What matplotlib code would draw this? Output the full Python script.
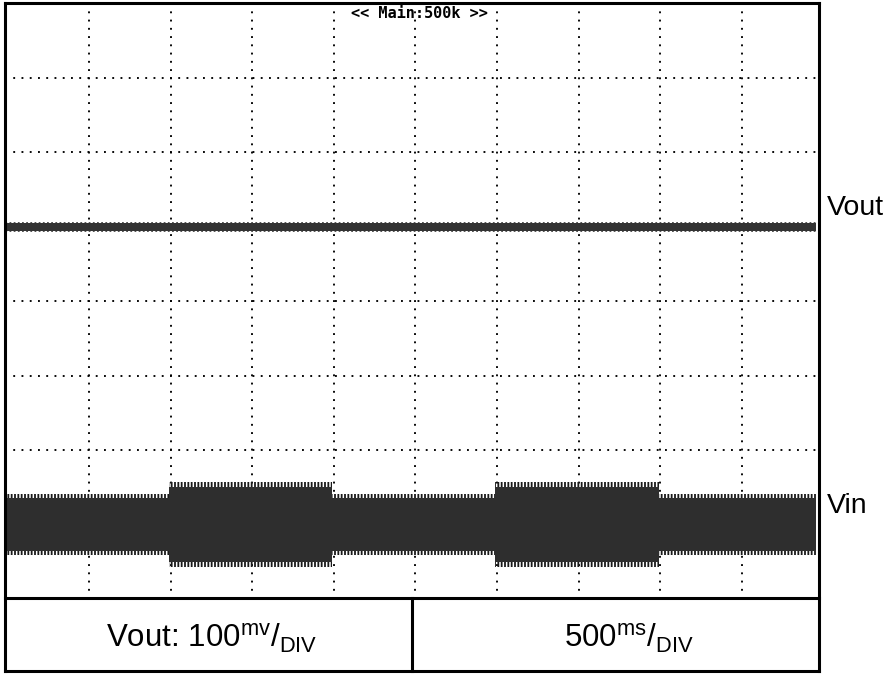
import matplotlib
matplotlib.use("Agg")
import matplotlib.pyplot as plt
from matplotlib.lines import Line2D
import numpy as np

plt.rcParams['font.family'] = ['Liberation Sans', 'DejaVu Sans']
plt.rcParams['mathtext.fontset'] = 'custom'
plt.rcParams['mathtext.rm'] = 'Liberation Sans'
plt.rcParams['hatch.linewidth'] = 1.3

# ---- data (in screen divisions) ----
vin_edges = [0.0, 1.98, 3.98, 5.98, 7.98, 9.91]      # segment boundaries (div)
vin_solid_half = [0.36, 0.50, 0.36, 0.50, 0.36]     # solid band half-height (div)
vin_hair_half = [0.41, 0.57, 0.41, 0.57, 0.41]      # spiky edge half-height (div)
vin_center = -3.0
vout_start, vout_end = 0.0, 9.91
vout_level = 1.0
vout_half = 0.05
vout_hair = 0.07
x_ticks = [1, 2, 3, 4, 5, 6, 7, 8, 9]
y_ticks = [-3, -2, -1, 0, 1, 2, 3]
label_vout = "Vout"
label_vin = "Vin"
header = "<< Main:500k >>"
scale_left = r"Vout: 100$^{\mathregular{mv}}$/$_{\mathregular{DIV}}$"
scale_right = r"500$^{\mathregular{ms}}$/$_{\mathregular{DIV}}$"

W, H = 893, 675
fig = plt.figure(figsize=(W / 100, H / 100), dpi=100)

def fx(px):
    return px / W

def fy(py):
    return 1 - py / H

ax_l, ax_r, ax_t, ax_b = 5, 819, 3.5, 599
ax = fig.add_axes([fx(ax_l), fy(ax_b), fx(ax_r) - fx(ax_l), fy(ax_t) - fy(ax_b)])
x0px, dpx = 7.4, 81.6
ax.set_xlim((ax_l - x0px) / dpx, (ax_r - x0px) / dpx)
ax.set_ylim(-4, 4)
ax.set_xticks([])
ax.set_yticks([])
for s in ax.spines.values():
    s.set_visible(False)

# dotted grid
dot = (0, (1, 3.4))
for xv in x_ticks:
    ax.axvline(xv, color='black', lw=1.35, linestyle=dot, zorder=1)
for yv in y_ticks:
    ax.axhline(yv, color='black', lw=1.35, linestyle=dot, zorder=1)

# Vin band
xe = np.array(vin_edges)
sh = np.array(vin_solid_half + [vin_solid_half[-1]])
hh = np.array(vin_hair_half + [vin_hair_half[-1]])
ax.fill_between(xe, vin_center - sh, vin_center + sh, step='post',
                color='#2e2e2e', lw=0, zorder=3)
ax.fill_between(xe, vin_center + sh, vin_center + hh, step='post',
                facecolor='none', edgecolor='#1a1a1a', hatch='|||||', lw=0, zorder=3)
ax.fill_between(xe, vin_center - hh, vin_center - sh, step='post',
                facecolor='none', edgecolor='#1a1a1a', hatch='|||||', lw=0, zorder=3)

# Vout trace
ax.fill_between([vout_start, vout_end], vout_level - vout_half, vout_level + vout_half,
                color='#333333', lw=0, zorder=3)
ax.fill_between([vout_start, vout_end], vout_level + vout_half, vout_level + vout_hair,
                facecolor='none', edgecolor='#555555', hatch='||||', lw=0, zorder=3)
ax.fill_between([vout_start, vout_end], vout_level - vout_hair, vout_level - vout_half,
                facecolor='none', edgecolor='#555555', hatch='||||', lw=0, zorder=3)

ax.text(fx(419.5), fy(13), header, transform=fig.transFigure, ha='center', va='center',
        family='DejaVu Sans Mono', fontsize=11, fontweight='bold', color='black', zorder=5)

# frame and table lines
lw = 2.2
frame_l, frame_r, frame_t, frame_b = 5, 819, 3, 671
div_y, div_x = 598, 412
segs = [
    ((frame_l, frame_t), (frame_r, frame_t)),
    ((frame_l, frame_b), (frame_r, frame_b)),
    ((frame_l, frame_t), (frame_l, frame_b)),
    ((frame_r, frame_t), (frame_r, frame_b)),
    ((frame_l, div_y), (frame_r, div_y)),
    ((div_x, div_y), (div_x, frame_b)),
]
for (a, b) in segs:
    fig.add_artist(Line2D([fx(a[0]), fx(b[0])], [fy(a[1]), fy(b[1])],
                          color='black', lw=lw, transform=fig.transFigure))

fig.text(fx(827), fy(208), label_vout, ha='left', va='center', fontsize=20.5)
fig.text(fx(827), fy(506), label_vin, ha='left', va='center', fontsize=20.5)

fig.text(fx(212), fy(648), scale_left, ha='center', va='baseline', fontsize=22.5)
fig.text(fx(629), fy(648), scale_right, ha='center', va='baseline', fontsize=22.5)

fig.savefig("out.png", dpi=100, facecolor='white')
